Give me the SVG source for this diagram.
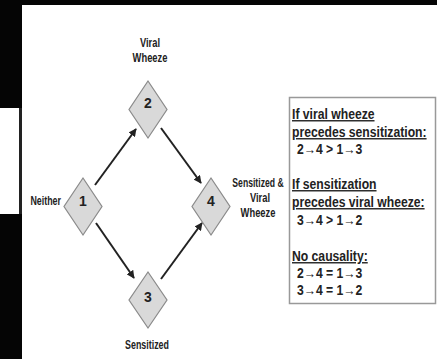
<svg xmlns="http://www.w3.org/2000/svg" width="437" height="359" viewBox="0 0 437 359">
  <style>
    .lbl { font-family: "Liberation Sans", Arial, sans-serif; font-weight: bold; fill: #222; }
    .small { font-size: 12px; }
    .num { font-size: 14px; }
    .box { font-size: 14px; }
    .ul { text-decoration: underline; }
    .mid { text-anchor: middle; }
    .dia { fill: #d9d9d9; stroke: #8a8a8a; stroke-width: 1.2; }
    .arr { stroke: #222; stroke-width: 2; fill: none; marker-end: url(#head); }
  </style>
  <defs>
    <marker id="head" viewBox="0 0 10 10" refX="9" refY="5" markerWidth="8" markerHeight="8" markerUnits="userSpaceOnUse" orient="auto">
      <path d="M0,0 L10,5 L0,10 Z" fill="#222"/>
    </marker>
  </defs>

  <!-- page frame -->
  <rect x="0" y="0" width="437" height="359" fill="#fff"/>
  <rect x="0" y="0" width="437" height="5" fill="#050505"/>
  <rect x="0" y="0" width="22" height="108" fill="#050505"/>
  <rect x="0" y="214" width="22" height="145" fill="#050505"/>
  <rect x="19" y="108" width="3" height="106" fill="#222"/>

  <!-- connectors -->
  <g id="connectors">
    <line class="arr" x1="95" y1="185" x2="136" y2="129"/>
    <line class="arr" x1="161" y1="128" x2="201" y2="183"/>
    <line class="arr" x1="96" y1="223" x2="134" y2="278"/>
    <line class="arr" x1="161" y1="279" x2="202" y2="223"/>
  </g>

  <g id="node1">
    <path class="dia" d="M83,178 L102,206.5 L83,235 L64,206.5 Z"/>
    <text class="lbl num" x="83" y="206" text-anchor="middle">1</text>
    <text class="lbl small" text-anchor="end" transform="translate(61,205) scale(0.74,1)">Neither</text>
  </g>

  <g id="node2">
    <path class="dia" d="M148,81 L167,109.5 L148,138 L129,109.5 Z"/>
    <text class="lbl num" x="148" y="108" text-anchor="middle">2</text>
    <text class="lbl small mid" transform="translate(150,47) scale(0.78,1)">Viral</text>
    <text class="lbl small mid" transform="translate(150,62) scale(0.78,1)">Wheeze</text>
  </g>

  <g id="node3">
    <path class="dia" d="M148,272 L167,300 L148,328 L129,300 Z"/>
    <text class="lbl num" x="148" y="302" text-anchor="middle">3</text>
    <text class="lbl small mid" transform="translate(147,349) scale(0.74,1)">Sensitized</text>
  </g>

  <g id="node4">
    <path class="dia" d="M211,178 L230,206.5 L211,235 L192,206.5 Z"/>
    <text class="lbl num" x="211" y="206" text-anchor="middle">4</text>
    <text class="lbl small mid" transform="translate(258,187) scale(0.72,1)">Sensitized &amp;</text>
    <text class="lbl small mid" transform="translate(260,202) scale(0.78,1)">Viral</text>
    <text class="lbl small mid" transform="translate(258,217) scale(0.78,1)">Wheeze</text>
  </g>

  <g id="legend">
    <rect x="289.5" y="97.5" width="146" height="206" fill="#fff" stroke="#999" stroke-width="1.5"/>
    <text class="lbl box ul" transform="translate(292,119) scale(0.87,1)">If viral wheeze</text>
    <text class="lbl box ul" transform="translate(292,137) scale(0.87,1)">precedes sensitization:</text>
    <text class="lbl box" transform="translate(297,154) scale(0.87,1)">2→4 &gt; 1→3</text>
    <text class="lbl box ul" transform="translate(292,189) scale(0.87,1)">If sensitization</text>
    <text class="lbl box ul" transform="translate(292,207) scale(0.87,1)">precedes viral wheeze:</text>
    <text class="lbl box" transform="translate(297,225) scale(0.87,1)">3→4 &gt; 1→2</text>
    <text class="lbl box ul" transform="translate(292,261) scale(0.87,1)">No causality:</text>
    <text class="lbl box" transform="translate(297,278) scale(0.87,1)">2→4 = 1→3</text>
    <text class="lbl box" transform="translate(297,295) scale(0.87,1)">3→4 = 1→2</text>
  </g>
</svg>
